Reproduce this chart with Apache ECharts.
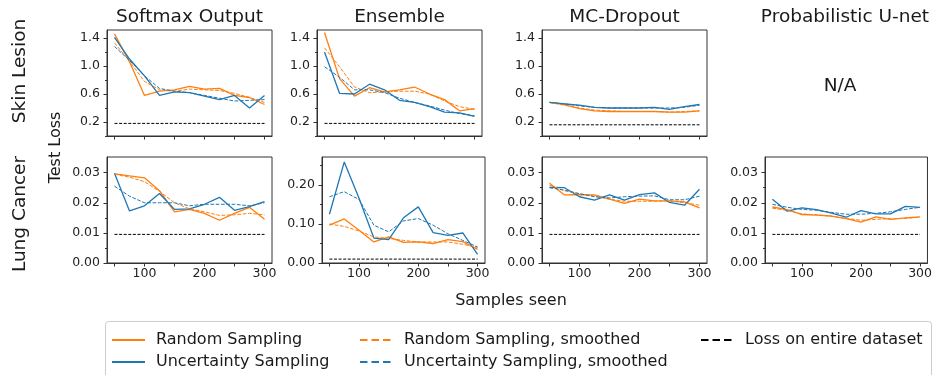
<!DOCTYPE html>
<html>
<head>
<meta charset="utf-8">
<script src="https://cdn.jsdelivr.net/npm/echarts@6/dist/echarts.min.js"></script>
<style>html,body{margin:0;padding:0;background:#fff;}#c{width:935px;height:375px;}</style>
</head>
<body>
<div id="c"></div>
<script>
// ---------- data ----------
const samples = [50, 75, 100, 125, 150, 175, 200, 225, 250, 275, 300];

const skinSoftmaxRandom   = [1.46, 1.06, 0.58, 0.64, 0.66, 0.71, 0.67, 0.68, 0.58, 0.55, 0.45];
const skinSoftmaxUncert   = [1.41, 1.10, 0.86, 0.58, 0.63, 0.62, 0.57, 0.52, 0.58, 0.40, 0.58];
const skinSoftmaxRandomSm = [1.33, 1.07, 0.78, 0.66, 0.64, 0.67, 0.66, 0.65, 0.61, 0.55, 0.48];
const skinSoftmaxUncertSm = [1.28, 1.08, 0.86, 0.68, 0.64, 0.62, 0.58, 0.54, 0.50, 0.51, 0.52];

const skinEnsembleRandom   = [1.48, 0.82, 0.57, 0.69, 0.63, 0.66, 0.70, 0.60, 0.52, 0.36, 0.39];
const skinEnsembleUncert   = [1.20, 0.61, 0.60, 0.74, 0.66, 0.51, 0.48, 0.42, 0.34, 0.33, 0.28];
const skinEnsembleRandomSm = [1.26, 0.99, 0.70, 0.62, 0.63, 0.64, 0.64, 0.60, 0.50, 0.42, 0.38];
const skinEnsembleUncertSm = [0.99, 0.84, 0.66, 0.66, 0.62, 0.54, 0.48, 0.43, 0.37, 0.32, 0.29];

const skinMCRandom   = [0.48, 0.45, 0.39, 0.36, 0.35, 0.35, 0.35, 0.35, 0.34, 0.34, 0.36];
const skinMCUncert   = [0.48, 0.46, 0.44, 0.41, 0.40, 0.40, 0.40, 0.41, 0.38, 0.42, 0.45];
const skinMCRandomSm = [0.48, 0.44, 0.40, 0.37, 0.36, 0.35, 0.35, 0.35, 0.34, 0.35, 0.36];
const skinMCUncertSm = [0.48, 0.46, 0.43, 0.41, 0.40, 0.40, 0.40, 0.40, 0.40, 0.41, 0.44];

const skinFullLoss = [0.18, 0.18, 0.16]; // softmax, ensemble, mc-dropout

const lungSoftmaxRandom   = [0.0296, 0.0289, 0.0283, 0.0240, 0.0170, 0.0178, 0.0165, 0.0142, 0.0165, 0.0185, 0.0145];
const lungSoftmaxUncert   = [0.0298, 0.0173, 0.0190, 0.0231, 0.0178, 0.0180, 0.0195, 0.0218, 0.0175, 0.0187, 0.0204];
const lungSoftmaxRandomSm = [0.0295, 0.0285, 0.0270, 0.0238, 0.0200, 0.0180, 0.0170, 0.0158, 0.0160, 0.0165, 0.0160];
const lungSoftmaxUncertSm = [0.0255, 0.0222, 0.0200, 0.0200, 0.0200, 0.0190, 0.0195, 0.0195, 0.0195, 0.0190, 0.0200];

const lungEnsembleRandom   = [0.097, 0.113, 0.084, 0.054, 0.067, 0.053, 0.054, 0.050, 0.060, 0.055, 0.035];
const lungEnsembleUncert   = [0.125, 0.259, 0.166, 0.064, 0.060, 0.116, 0.144, 0.078, 0.071, 0.077, 0.022];
const lungEnsembleRandomSm = [0.100, 0.094, 0.082, 0.067, 0.063, 0.058, 0.054, 0.054, 0.054, 0.048, 0.040];
const lungEnsembleUncertSm = [0.170, 0.183, 0.163, 0.097, 0.080, 0.108, 0.114, 0.097, 0.075, 0.058, 0.041];

const lungMCRandom   = [0.0265, 0.0226, 0.0227, 0.0226, 0.0212, 0.0198, 0.0212, 0.0206, 0.0206, 0.0203, 0.0183];
const lungMCUncert   = [0.0251, 0.0250, 0.0220, 0.0209, 0.0226, 0.0209, 0.0227, 0.0233, 0.0201, 0.0192, 0.0245];
const lungMCRandomSm = [0.0258, 0.0240, 0.0230, 0.0222, 0.0212, 0.0205, 0.0205, 0.0205, 0.0206, 0.0200, 0.0192];
const lungMCUncertSm = [0.0250, 0.0242, 0.0230, 0.0220, 0.0216, 0.0220, 0.0222, 0.0223, 0.0210, 0.0210, 0.0222];

const lungUnetRandom   = [0.0186, 0.0177, 0.0161, 0.0159, 0.0156, 0.0147, 0.0136, 0.0153, 0.0145, 0.0150, 0.0153];
const lungUnetUncert   = [0.0212, 0.0172, 0.0183, 0.0177, 0.0166, 0.0152, 0.0174, 0.0163, 0.0163, 0.0188, 0.0185];
const lungUnetRandomSm = [0.0182, 0.0175, 0.0163, 0.0160, 0.0155, 0.0148, 0.0142, 0.0145, 0.0147, 0.0148, 0.0152];
const lungUnetUncertSm = [0.0195, 0.0185, 0.0178, 0.0175, 0.0168, 0.0162, 0.0162, 0.0165, 0.0170, 0.0178, 0.0185];

const lungFullLoss = [0.0095, 0.010, 0.0095, 0.0095]; // softmax, ensemble, mc-dropout, u-net

const columnTitles = ['Softmax Output', 'Ensemble', 'MC-Dropout', 'Probabilistic U-net'];
const rowTitles = ['Skin Lesion', 'Lung Cancer'];
const seriesNames = ['Random Sampling', 'Uncertainty Sampling', 'Random Sampling, smoothed', 'Uncertainty Sampling, smoothed', 'Loss on entire dataset'];

const xTickValues = [50, 100, 150, 200, 250, 300];
const xLabelValues = [100, 200, 300];
const skinYLabels = [0.2, 0.6, 1.0, 1.4];
const skinYMinor = [0.0, 0.4, 0.8, 1.2];
const lungYLabels = [0.00, 0.01, 0.02, 0.03];
const lungYMinor = [0.005, 0.015, 0.025];
const ensLungYLabels = [0.00, 0.10, 0.20];
const ensLungYMinor = [0.05, 0.15, 0.25];

// ---------- layout ----------
const FONT = '"DejaVu Sans", "Liberation Sans", sans-serif';
const ORANGE = '#ff7f0e', BLUE = '#1f77b4';
const SPINE = '#333';

const panels = [
  {grid:{left:107, top:30, width:165, height:106}, ymax:1.515, labels:skinYLabels, minor:skinYMinor, dec:1, xl:false,
   d:[skinSoftmaxRandom, skinSoftmaxUncert, skinSoftmaxRandomSm, skinSoftmaxUncertSm], full:skinFullLoss[0]},
  {grid:{left:317, top:30, width:165, height:106}, ymax:1.515, labels:skinYLabels, minor:skinYMinor, dec:1, xl:false,
   d:[skinEnsembleRandom, skinEnsembleUncert, skinEnsembleRandomSm, skinEnsembleUncertSm], full:skinFullLoss[1]},
  {grid:{left:542, top:30, width:165, height:106}, ymax:1.515, labels:skinYLabels, minor:skinYMinor, dec:1, xl:false,
   d:[skinMCRandom, skinMCUncert, skinMCRandomSm, skinMCUncertSm], full:skinFullLoss[2]},
  {grid:{left:107, top:157, width:165, height:106}, ymax:0.0352, labels:lungYLabels, minor:lungYMinor, dec:2, xl:true,
   d:[lungSoftmaxRandom, lungSoftmaxUncert, lungSoftmaxRandomSm, lungSoftmaxUncertSm], full:lungFullLoss[0]},
  {grid:{left:322, top:157, width:163, height:106}, ymax:0.272, labels:ensLungYLabels, minor:ensLungYMinor, dec:2, xl:true,
   d:[lungEnsembleRandom, lungEnsembleUncert, lungEnsembleRandomSm, lungEnsembleUncertSm], full:lungFullLoss[1]},
  {grid:{left:542, top:157, width:165, height:106}, ymax:0.0352, labels:lungYLabels, minor:lungYMinor, dec:2, xl:true,
   d:[lungMCRandom, lungMCUncert, lungMCRandomSm, lungMCUncertSm], full:lungFullLoss[2]},
  {grid:{left:765, top:157, width:164, height:106}, ymax:0.0352, labels:lungYLabels, minor:lungYMinor, dec:2, xl:true,
   d:[lungUnetRandom, lungUnetUncert, lungUnetRandomSm, lungUnetUncertSm], full:lungFullLoss[3]}
];

const grids = [], xAxes = [], yAxes = [], series = [];
const styles = [
  {color:ORANGE, width:1.3, type:'solid'},
  {color:BLUE, width:1.3, type:'solid'},
  {color:ORANGE, width:1.0, type:[3.7, 1.6]},
  {color:BLUE, width:1.0, type:[3.7, 1.6]}
];
panels.forEach((p, i) => {
  grids.push(Object.assign({show:true, borderColor:SPINE, borderWidth:1, backgroundColor:'#fff'}, p.grid));
  xAxes.push({
    type:'value', gridIndex:i, min:37.5, max:312.5,
    axisLine:{show:true, lineStyle:{color:SPINE, width:1}},
    axisTick:{show:true, length:3.5, customValues:xTickValues, lineStyle:{color:SPINE}},
    axisLabel:{show:p.xl, customValues:xLabelValues, margin:4, fontFamily:FONT, fontSize:12.5, color:'#222'},
    splitLine:{show:false}
  });
  yAxes.push({
    type:'value', gridIndex:i, min:0, max:p.ymax, position:'left', offset:0,
    axisLine:{show:true, lineStyle:{color:SPINE, width:1}},
    axisTick:{show:true, length:3.5, customValues:p.labels, lineStyle:{color:SPINE}},
    axisLabel:{show:true, customValues:p.labels, margin:7, fontFamily:FONT, fontSize:12.5, color:'#222',
      formatter:(v) => Number(v).toFixed(p.dec)},
    splitLine:{show:false}
  });
  p.d.forEach((vals, k) => {
    series.push({
      name:seriesNames[k], type:'line', xAxisIndex:i, yAxisIndex:i,
      data:samples.map((x, j) => [x, vals[j]]),
      symbol:'none', silent:true,
      lineStyle:{color:styles[k].color, width:styles[k].width, type:styles[k].type},
      itemStyle:{color:styles[k].color}, z:2 + k
    });
  });
  series.push({
    name:seriesNames[4], type:'line', xAxisIndex:i, yAxisIndex:i,
    data:[[samples[0], p.full], [samples[samples.length - 1], p.full]],
    symbol:'none', silent:true,
    lineStyle:{color:'#000', width:1, type:[3, 1.6]}, itemStyle:{color:'#000'}, z:7
  });
});
// minor y ticks
panels.forEach((p, i) => {
  yAxes.push({
    type:'value', gridIndex:i, min:0, max:p.ymax, position:'left', offset:0,
    axisLine:{show:false},
    axisTick:{show:true, length:2, customValues:p.minor, lineStyle:{color:SPINE}},
    axisLabel:{show:false}, splitLine:{show:false}
  });
});

function txt(x, y, text, size, rot) {
  return {type:'text', x:x, y:y, rotation:rot || 0, z:10,
    style:{text:text, font:size + 'px ' + FONT, fill:'#1a1a1a',
      align:'center', verticalAlign:'middle', textAlign:'center', textVerticalAlign:'middle'}};
}
const graphics = [
  {type:'rect', shape:{x:105.5, y:321.5, width:826, height:80, r:3}, style:{fill:'#fff', stroke:'#ccc', lineWidth:1}, z:0},
  txt(189.5, 17, columnTitles[0], 18.5),
  txt(399.5, 17, columnTitles[1], 18.5),
  txt(624.5, 17, columnTitles[2], 18.5),
  txt(845, 17, columnTitles[3], 18.5),
  txt(840, 86, 'N/A', 18.5),
  txt(20, 71, rowTitles[0], 18.5, Math.PI / 2),
  txt(20.5, 214, rowTitles[1], 18.5, Math.PI / 2),
  txt(56, 147.5, 'Test Loss', 16, Math.PI / 2),
  txt(511, 301, 'Samples seen', 16)
];

function legendCol(left, names, dashed) {
  return {
    show:true, orient:'vertical', left:left, top:332, padding:0, itemGap:6,
    itemWidth:33, itemHeight:14, selectedMode:false, data:names,
    itemStyle:{opacity:0, color:'rgba(0,0,0,0)', borderColor:'rgba(0,0,0,0)', borderWidth:0},
    lineStyle:dashed ? {width:2, type:[7.5, 4]} : {width:2},
    textStyle:{fontFamily:FONT, fontSize:16, color:'#1a1a1a', padding:[0, 0, 0, 6]}
  };
}

const chart = echarts.init(document.getElementById('c'), null, {renderer:'canvas'});
chart.setOption({
  animation:false,
  backgroundColor:'#fff',
  grid:grids, xAxis:xAxes, yAxis:yAxes, series:series,
  graphic:graphics,
  legend:[
    legendCol(111, [seriesNames[0], seriesNames[1]], false),
    legendCol(359, [seriesNames[2], seriesNames[3]], true),
    legendCol(700, [seriesNames[4]], true)
  ]
});
</script>
</body>
</html>
